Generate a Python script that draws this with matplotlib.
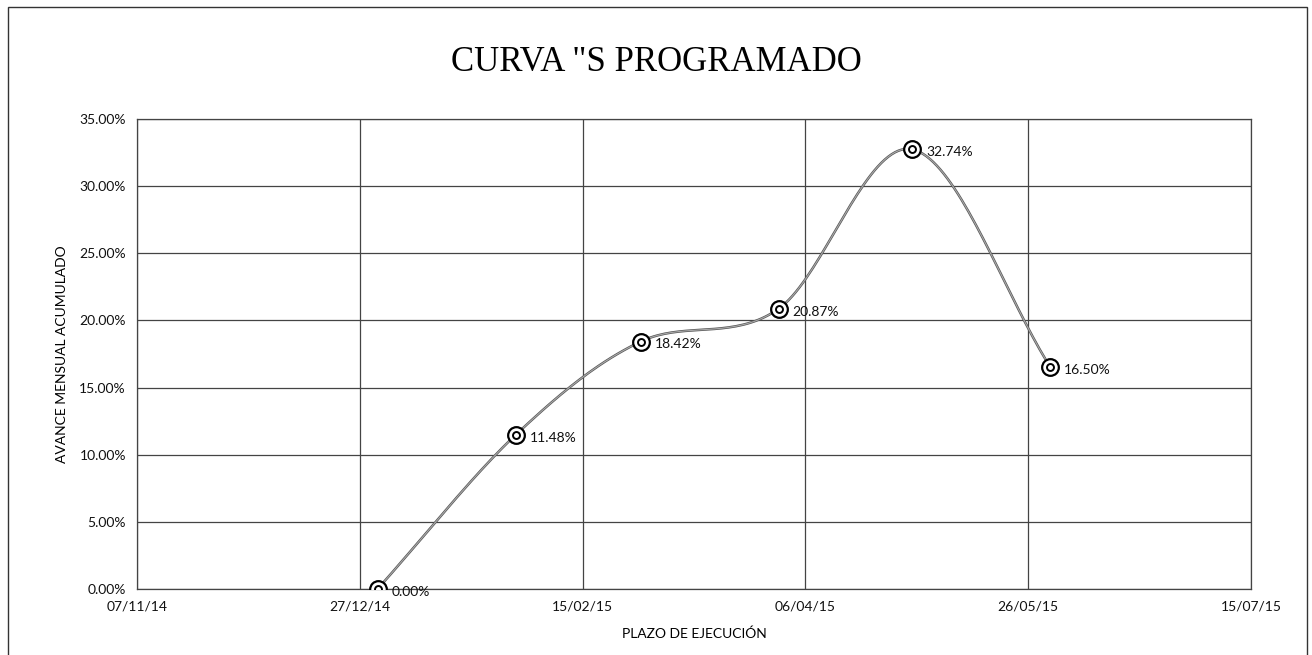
import numpy as np
import matplotlib
matplotlib.use("Agg")
import matplotlib.pyplot as plt
import matplotlib.dates as mdates
import matplotlib.ticker as ticker
from matplotlib.patches import Rectangle
import datetime as dt

# data
fechas = ["2014-12-31", "2015-01-31", "2015-02-28", "2015-03-31", "2015-04-30", "2015-05-31"]
avance = [0.00, 11.48, 18.42, 20.87, 32.74, 16.50]
etiquetas = ["0.00%", "11.48%", "18.42%", "20.87%", "32.74%", "16.50%"]

x_min = dt.date(2014, 11, 7)
x_max = dt.date(2015, 7, 15)

xd = mdates.date2num([dt.date.fromisoformat(f) for f in fechas])
yv = np.array(avance)


def catmull(x, y, n=40):
    # smooth line like excel's "smoothed line"
    px = np.concatenate([[2 * x[0] - x[1]], x, [2 * x[-1] - x[-2]]])
    py = np.concatenate([[2 * y[0] - y[1]], y, [2 * y[-1] - y[-2]]])
    ox, oy = [], []
    t = np.linspace(0, 1, n)
    for i in range(1, len(px) - 2):
        p0, p1, p2, p3 = px[i - 1], px[i], px[i + 1], px[i + 2]
        q0, q1, q2, q3 = py[i - 1], py[i], py[i + 1], py[i + 2]
        c1x, c1y = p1 + (p2 - p0) / 6, q1 + (q2 - q0) / 6
        c2x, c2y = p2 - (p3 - p1) / 6, q2 - (q3 - q1) / 6
        bx = (1 - t) ** 3 * p1 + 3 * (1 - t) ** 2 * t * c1x + 3 * (1 - t) * t ** 2 * c2x + t ** 3 * p2
        by = (1 - t) ** 3 * q1 + 3 * (1 - t) ** 2 * t * c1y + 3 * (1 - t) * t ** 2 * c2y + t ** 3 * q2
        ox.extend(bx)
        oy.extend(by)
    return np.array(ox), np.array(oy)


fig = plt.figure(figsize=(13.12, 6.55), dpi=100)
ax = fig.add_axes([0.1044, 0.1008, 0.8491, 0.7175])

fig.patches.append(Rectangle((0.006, -0.01), 0.99, 1.0, transform=fig.transFigure,
                             fill=False, edgecolor="#333333", linewidth=1.0))

sx, sy = catmull(xd, yv)
ax.plot(sx, sy, color="#555555", linewidth=1.8, zorder=3)
ax.plot(sx, sy, color="#aaaaaa", linewidth=0.8, zorder=3)
ax.plot(xd, yv, linestyle="none", marker="o", markersize=12, markerfacecolor="white",
        markeredgecolor="black", markeredgewidth=1.6, zorder=4)
ax.plot(xd, yv, linestyle="none", marker="o", markersize=5, markerfacecolor="white",
        markeredgecolor="black", markeredgewidth=1.4, zorder=5)

for x, y, lab in zip(xd, yv, etiquetas):
    ax.annotate(lab, (x, y), xytext=(10, -2), textcoords="offset points",
                ha="left", va="center", fontsize=10, family="Lato", color="#111111")

ax.set_xlim(mdates.date2num(x_min), mdates.date2num(x_max))
ax.set_ylim(0, 35)
ticks = [mdates.date2num(x_min) + 50 * i for i in range(6)]
ax.set_xticks(ticks)
ax.xaxis.set_major_formatter(mdates.DateFormatter("%d/%m/%y"))
ax.yaxis.set_major_locator(ticker.MultipleLocator(5))
ax.yaxis.set_major_formatter(ticker.FuncFormatter(lambda v, p: f"{v:.2f}%"))

ax.grid(True, color="#444444", linewidth=0.9)
ax.set_axisbelow(True)
for s in ax.spines.values():
    s.set_color("#444444")
    s.set_linewidth(0.9)
ax.tick_params(length=0, labelsize=10, pad=8, labelcolor="#111111")
for lab in ax.get_xticklabels() + ax.get_yticklabels():
    lab.set_family("Lato")

ax.set_xlabel("PLAZO DE EJECUCIÓN", fontsize=10, family="Lato", labelpad=11)
ax.set_ylabel("AVANCE MENSUAL ACUMULADO", fontsize=10, family="Lato", labelpad=8)
fig.text(0.5, 0.905, 'CURVA "S PROGRAMADO', ha="center", va="center",
         fontsize=25, family="Liberation Serif")

fig.savefig("out.png", dpi=100)
